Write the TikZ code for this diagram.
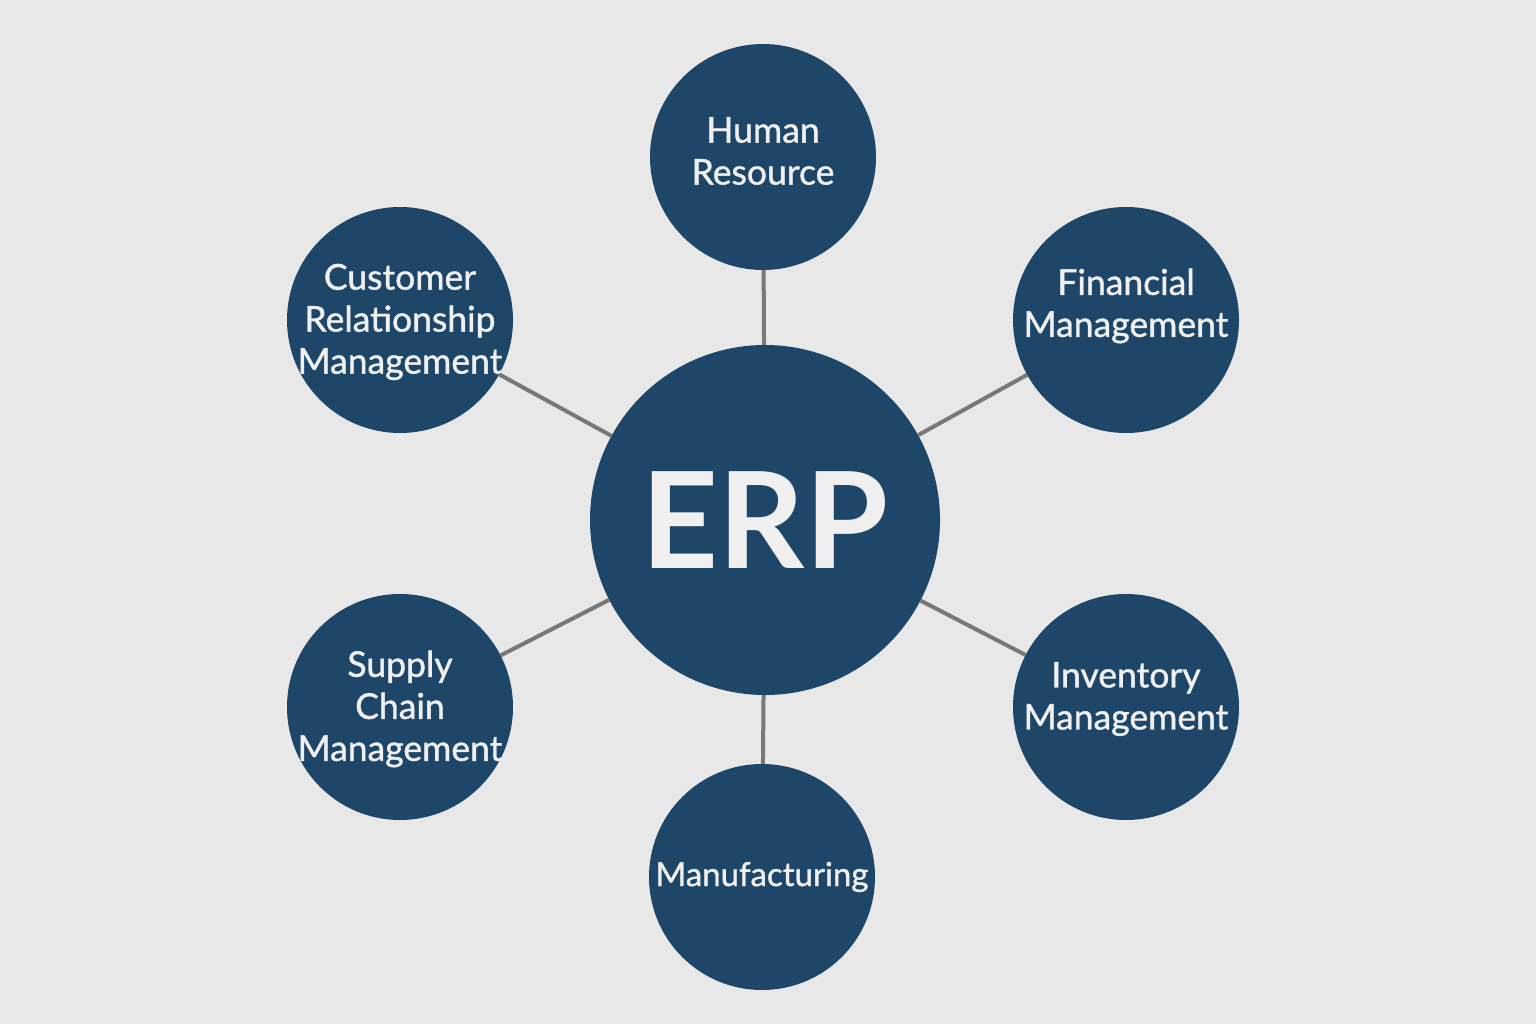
\documentclass[tikz,border=0pt]{standalone}
\usepackage{fontspec}
\setmainfont{Lato}
\newfontfamily\satfont{Lato}[RawFeature={embolden=1.1}]
\definecolor{bg}{HTML}{E8E8E8}
\definecolor{erpblue}{HTML}{1E4669}
\definecolor{txt}{HTML}{F0F0F0}
\definecolor{link}{HTML}{787878}
\begin{document}
\begin{tikzpicture}[x=1pt,y=-1pt,
  sat/.style={circle,fill=erpblue,minimum size=226pt,inner sep=0pt},
  sattext/.style={inner sep=0pt,text=txt,align=center,
    font=\satfont\fontsize{35.5}{42}\selectfont},
  hub/.style={circle,fill=erpblue,minimum size=350pt,inner sep=0pt,text=txt,
    font=\fontsize{134}{134}\selectfont\bfseries},
  conn/.style={draw=link,line width=4pt}]
\fill[bg] (0,0) rectangle (1536,1024);
\useasboundingbox (0,0) rectangle (1536,1024);
\node[hub] (erp) at (765,520) {ERP};
\node[sat] (hr) at (763,157) {};
\node[sat] (fm) at (1126,320) {};
\node[sat] (im) at (1126,707) {};
\node[sat] (mf) at (762,877) {};
\node[sat] (sc) at (400,707) {};
\node[sat] (crm) at (400,320) {};
\node[sattext] (hrt) at ([yshift=6pt]hr.center) {Human\\Resource};
\node[sattext] (fmt) at ([yshift=14pt]fm.center) {Financial\\Management};
\node[sattext] (imt) at ([yshift=8pt]im.center) {Inventory\\Management};
\node[sattext,font=\satfont\fontsize{33}{42}\selectfont] (mft) at (mf.center) {Manufacturing};
\node[sattext] (sct) at ([yshift=-2pt]sc.center) {Supply\\Chain\\Management};
\node[sattext] (crmt) at ([yshift=-2pt]crm.center) {Customer\\Relationship\\Management};
\foreach \s in {hr,fm,im,mf,sc,crm}{
  \draw[conn] (erp) -- (\s);
}
\end{tikzpicture}
\end{document}
